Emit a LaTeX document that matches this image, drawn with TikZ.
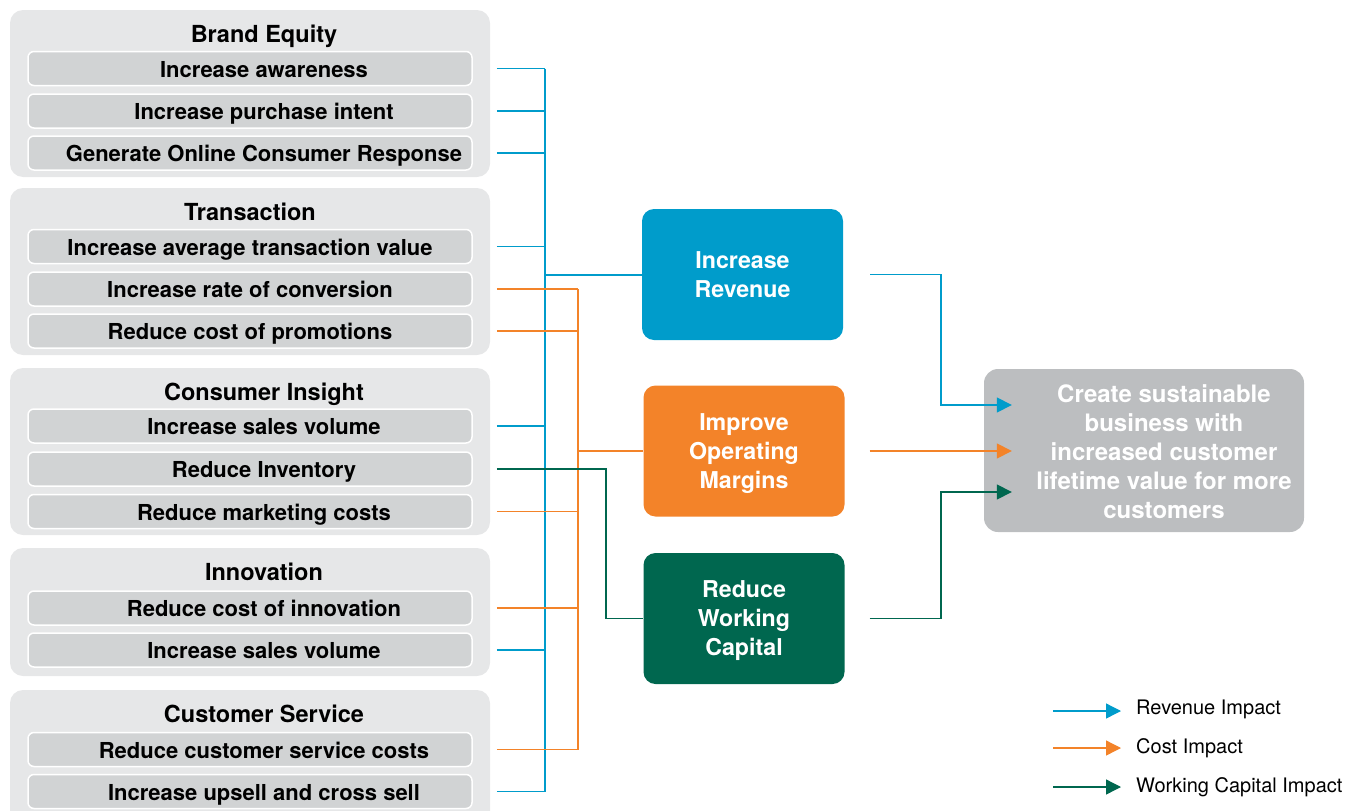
\documentclass[tikz,border=0pt]{standalone}
\usepackage{fontspec}
\setmainfont{TeX Gyre Heros}
\usetikzlibrary{arrows.meta}
\definecolor{grpfill}{HTML}{E6E7E8}
\definecolor{itemfill}{HTML}{D1D3D4}
\definecolor{revblue}{HTML}{009CCB}
\definecolor{costorange}{HTML}{F38329}
\definecolor{wcgreen}{HTML}{00674F}
\definecolor{goalgray}{HTML}{BCBEC0}
\begin{document}
\begin{tikzpicture}[x=1pt,y=-1pt,
  grp/.style={fill=grpfill, rounded corners=13pt, minimum width=480pt, inner sep=0pt},
  item/.style={fill=itemfill, draw=white, line width=1.5pt, rounded corners=6pt,
    minimum width=444pt, minimum height=34pt, inner sep=0pt,
    text height=17.5pt, text depth=0pt, font=\fontsize{22}{26}\selectfont\bfseries},
  ttl/.style={inner sep=0pt, text height=17pt, text depth=0pt,
    font=\fontsize{23.5}{26}\selectfont\bfseries},
  hub/.style={rounded corners=12pt, minimum width=201pt, minimum height=131pt,
    text=white, align=center, text depth=0pt, font=\fontsize{23.2}{29}\selectfont\bfseries},
  lnk/.style={line width=1.5pt},
  tip/.style={-{Triangle[length=15pt,width=15pt]}},
  legtxt/.style={anchor=west, inner sep=0pt, font=\fontsize{20}{24}\selectfont},
]
\useasboundingbox (0,0) rectangle (1349,811);

% ---------- driver groups ----------
\node[grp, minimum height=167pt] (be) at (250,93.5) {};
\node[grp, minimum height=167pt] (tr) at (250,271.5) {};
\node[grp, minimum height=167pt] (ci) at (250,451.5) {};
\node[grp, minimum height=128pt] (in) at (250,612) {};
\node[grp, minimum height=140pt] (cs) at (250,760) {};

\node[ttl] (beT) at (264,34) {Brand Equity};
\node[item] (be1) at (250,68.5) {\hspace*{28pt}Increase awareness};
\node[item] (be2) at (250,111) {\hspace*{28pt}Increase purchase intent};
\node[item] (be3) at (250,153) {\hspace*{28pt}Generate Online Consumer Response};

\node[ttl] (trT) at (250,212) {Transaction};
\node[item] (tr1) at (250,246.5) {Increase average transaction value};
\node[item] (tr2) at (250,289) {Increase rate of conversion};
\node[item] (tr3) at (250,331) {Reduce cost of promotions};

\node[ttl] (ciT) at (264,392) {Consumer Insight};
\node[item] (ci1) at (250,426) {\hspace*{28pt}Increase sales volume};
\node[item] (ci2) at (250,469) {\hspace*{28pt}Reduce Inventory};
\node[item] (ci3) at (250,511.5) {\hspace*{28pt}Reduce marketing costs};

\node[ttl] (inT) at (264,572) {Innovation};
\node[item] (in1) at (250,608) {\hspace*{28pt}Reduce cost of innovation};
\node[item] (in2) at (250,650) {\hspace*{28pt}Increase sales volume};

\node[ttl] (csT) at (264,714) {Customer Service};
\node[item] (cs1) at (250,749.5) {\hspace*{28pt}Reduce customer service costs};
\node[item] (cs2) at (250,791.5) {\hspace*{28pt}Increase upsell and cross sell};

% ---------- impact boxes ----------
\node[hub, fill=revblue] (rev) at (742.5,274.5) {Increase\\Revenue};
\node[hub, fill=costorange] (om) at (744,451) {Improve\\Operating\\Margins};
\node[hub, fill=wcgreen] (wc) at (744,618.5) {Reduce\\Working\\Capital};

% ---------- goal ----------
\node[fill=goalgray, rounded corners=14pt, minimum width=320pt, minimum height=163pt] (goal) at (1144,450.5) {};

% ---------- trunk positions ----------
\coordinate (bx) at (545,0);
\coordinate (ox) at (578,0);
\coordinate (gx) at (606,0);
\coordinate (rx) at (941,0);

% revenue links
\foreach \n in {be1,be2,be3,tr1,ci1,in2,cs2}
  \draw[lnk, revblue] ([xshift=24pt]\n.east) -- (\n.east -| bx);
\draw[lnk, revblue] (be1.east -| bx) -- (cs2.east -| bx);
\draw[lnk, revblue, line width=2pt] (rev.west -| bx) -- (rev.west);

% cost links
\foreach \n in {tr2,tr3,ci3,in1,cs1}
  \draw[lnk, costorange] ([xshift=24pt]\n.east) -- (\n.east -| ox);
\draw[lnk, costorange] (tr2.east -| ox) -- (cs1.east -| ox);
\draw[lnk, costorange, line width=2pt] (om.west -| ox) -- (om.west);

% working capital link
\draw[lnk, wcgreen] ([xshift=24pt]ci2.east) -- (ci2.east -| gx) -- (wc.west -| gx) -- (wc.west);

% links into the goal
\draw[lnk, revblue, tip] ([xshift=27pt]rev.east) -- (rev.east -| rx) |- ([xshift=28pt,yshift=45.5pt]goal.west);
\draw[lnk, costorange, tip] ([xshift=25pt]om.east) -- ([xshift=28pt]goal.west |- om.east);
\draw[lnk, wcgreen, tip] ([xshift=25pt]wc.east) -- (wc.east -| rx) |- ([xshift=28pt,yshift=-41.5pt]goal.west);

\node[text=white, align=center, inner sep=0pt, font=\fontsize{24}{29}\selectfont\bfseries] (goalT) at (1164,452)
  {Create sustainable\\business with\\increased customer\\lifetime value for more\\customers};

% ---------- legend ----------
\coordinate (l1a) at (1053,711); \coordinate (l1b) at (1121,711);
\coordinate (l2a) at (1053,748); \coordinate (l2b) at (1121,748);
\coordinate (l3a) at (1053,787); \coordinate (l3b) at (1121,787);
\draw[line width=1.3pt, revblue, tip] (l1a) -- (l1b);
\draw[line width=1.3pt, costorange, tip] (l2a) -- (l2b);
\draw[line width=1.3pt, wcgreen, tip] (l3a) -- (l3b);
\node[legtxt] (lg1) at (1136,709) {Revenue Impact};
\node[legtxt] (lg2) at (1136,748) {Cost Impact};
\node[legtxt] (lg3) at (1136,787) {Working Capital Impact};
\end{tikzpicture}
\end{document}
